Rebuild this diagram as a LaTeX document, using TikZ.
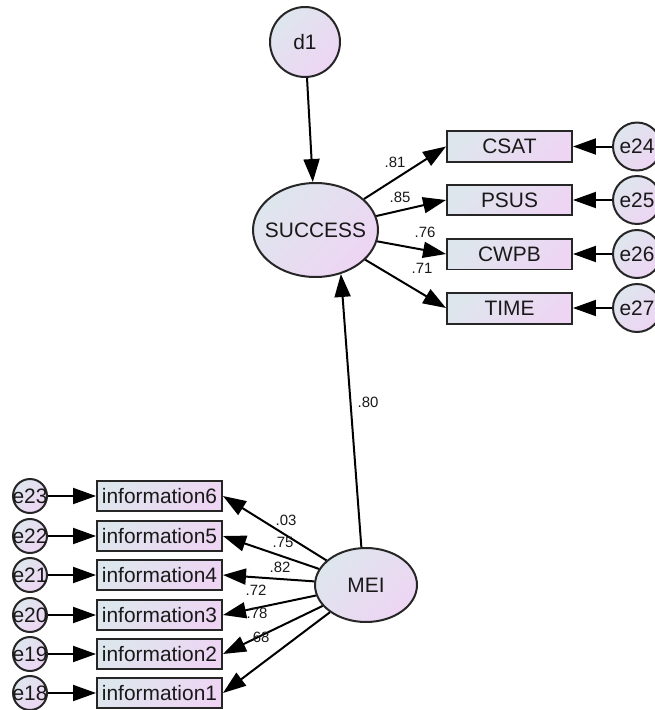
\documentclass[tikz,border=0pt]{standalone}
\usepackage{fontspec}
\setmainfont{Liberation Sans}
\usetikzlibrary{arrows.meta,shapes.geometric}
\definecolor{amosgrey}{RGB}{222,230,237}
\definecolor{amoslilac}{RGB}{238,213,243}

\begin{document}
\begin{tikzpicture} [x=0.02cm,y=-0.02cm,line width=0.04cm,
			>={Triangle[length=4.6mm,width=3.2mm]},
			every node/.style={font=\fontsize{11.9}{14}\selectfont,text=black!90},
			amosfill/.style={draw=black!85,top color=amosgrey,bottom color=amoslilac,shading angle=45},
			latent/.style={amosfill,ellipse,inner xsep=-0.4cm,inner ysep=0pt},
			observed/.style={amosfill,rectangle,minimum width=2.5cm,inner sep=0pt},
			error/.style={amosfill,circle,inner sep=-1.5pt},
			weight/.style={font=\fontsize{8.5}{10}\selectfont,inner sep=0pt}]

			\useasboundingbox (0,0) rectangle (655,710);

			% latent variables
			\node [latent, minimum width=2.5cm, minimum height=1.88cm] (success) at (315.5,230) {SUCCESS};
			\node [latent, minimum width=2.04cm, minimum height=1.48cm] (mei) at (366,585) {MEI};
			\node [error, minimum size=1.4cm] (d1) at (305,42) {d1};

			% indicators of SUCCESS
			\node [observed, minimum height=0.62cm] (csat) at (509.5,146.5) {CSAT};
			\node [observed, minimum height=0.62cm] (psus) at (509.5,200) {PSUS};
			\node [observed, minimum height=0.62cm] (cwpb) at (509.5,254) {CWPB};
			\node [observed, minimum height=0.62cm] (time) at (509.5,308) {TIME};
			\node [error, minimum size=0.96cm] (e24) at (637,146.5) {e24};
			\node [error, minimum size=0.96cm] (e25) at (637,200) {e25};
			\node [error, minimum size=0.96cm] (e26) at (637,254) {e26};
			\node [error, minimum size=0.96cm] (e27) at (637,308) {e27};

			% indicators of MEI
			\node [observed, minimum height=0.6cm] (info6) at (159.5,496) {information6};
			\node [observed, minimum height=0.6cm] (info5) at (159.5,536) {information5};
			\node [observed, minimum height=0.6cm] (info4) at (159.5,575) {information4};
			\node [observed, minimum height=0.6cm] (info3) at (159.5,615) {information3};
			\node [observed, minimum height=0.6cm] (info2) at (159.5,654) {information2};
			\node [observed, minimum height=0.6cm] (info1) at (159.5,693) {information1};
			\node [error, minimum size=0.68cm] (e23) at (30,496) {e23};
			\node [error, minimum size=0.68cm] (e22) at (30,536) {e22};
			\node [error, minimum size=0.68cm] (e21) at (30,575) {e21};
			\node [error, minimum size=0.68cm] (e20) at (30,615) {e20};
			\node [error, minimum size=0.68cm] (e19) at (30,654) {e19};
			\node [error, minimum size=0.68cm] (e18) at (30,693) {e18};

			% paths
			\draw [->] (d1) -- (success);
			\draw [->] (mei.97) -- (success.300);
			\draw [->] (success) -- (csat.west);
			\draw [->] (success) -- (psus.west);
			\draw [->] (success) -- (cwpb.west);
			\draw [->] (success) -- (time.west);
			\draw [->] (e24) -- (csat);
			\draw [->] (e25) -- (psus);
			\draw [->] (e26) -- (cwpb);
			\draw [->] (e27) -- (time);
			\draw [->] (mei) -- (info6.east);
			\draw [->] (mei) -- (info5.east);
			\draw [->] (mei) -- (info4.east);
			\draw [->] (mei) -- (info3.east);
			\draw [->] (mei) -- (info2.east);
			\draw [->] (mei) -- (info1.east);
			\draw [->] (e23) -- (info6);
			\draw [->] (e22) -- (info5);
			\draw [->] (e21) -- (info4);
			\draw [->] (e20) -- (info3);
			\draw [->] (e19) -- (info2);
			\draw [->] (e18) -- (info1);

			% standardized estimates
			\node [weight] (w-csat) at (395,162) {.81};
			\node [weight] (w-psus) at (400,197) {.85};
			\node [weight] (w-cwpb) at (425,232) {.76};
			\node [weight] (w-time) at (422,268) {.71};
			\node [weight] (w-mei) at (368,402) {.80};
			\node [weight] (w-info6) at (286,520) {.03};
			\node [weight] (w-info5) at (283,542) {.75};
			\node [weight] (w-info4) at (280,567) {.82};
			\node [weight] (w-info3) at (256,590) {.72};
			\node [weight] (w-info2) at (257,613) {.78};
			\node [weight] (w-info1) at (259,637) {.68};
		\end{tikzpicture}
\end{document}
